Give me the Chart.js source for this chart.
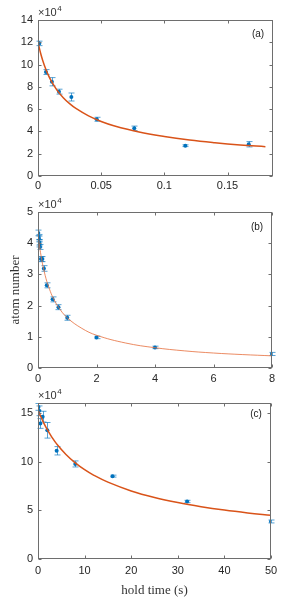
<!DOCTYPE html>
<html lang="en">
  <head>
    <meta charset="UTF-8" />
    <title>atom number vs hold time</title>
    <style>
      html, body { margin: 0; padding: 0; background: #fff; }
      .panel { position: absolute; left: 0; width: 299px; }
      #wrapA { top: 0; height: 196px; }
      #wrapB { top: 196px; height: 190px; }
      #wrapC { top: 386px; height: 212px; }
    </style>
  </head>
  <body>
    <div class="panel" id="wrapA"><canvas id="chartA"></canvas></div>
    <div class="panel" id="wrapB"><canvas id="chartB"></canvas></div>
    <div class="panel" id="wrapC"><canvas id="chartC"></canvas></div>
    <script src="https://cdn.jsdelivr.net/npm/chart.js"></script>
    <script>
      // panel (a): hold time in s, atom number in units of 1e4
      const timesA = [0.001, 0.0063, 0.011, 0.0166, 0.0264, 0.0465, 0.0762, 0.1166, 0.1668];
      const atomsA = [11.9, 9.33, 8.46, 7.57, 7.09, 5.09, 4.28, 2.72, 2.85];
      const errA = [0.2, 0.22, 0.37, 0.22, 0.36, 0.18, 0.2, 0.08, 0.24];
      const fitTimesA = [0, 0.0025, 0.005, 0.0075, 0.01, 0.015, 0.02, 0.025, 0.03, 0.04, 0.05, 0.06, 0.08, 0.1, 0.12, 0.14, 0.16, 0.18];
      const fitAtomsA = [12.0, 10.83, 9.93, 9.22, 8.63, 7.71, 7.03, 6.49, 6.06, 5.39, 4.89, 4.51, 3.94, 3.54, 3.23, 2.99, 2.79, 2.63];

      // panel (b)
      const timesB = [0.01, 0.02, 0.03, 0.04, 0.05, 0.07, 0.1, 0.15, 0.2, 0.3, 0.5, 0.7, 1, 2, 4, 8];
      const atomsB = [4.33, 4.2, 4.15, 4.03, 3.96, 3.88, 3.49, 3.49, 3.19, 2.65, 2.2, 1.95, 1.61, 0.98, 0.66, 0.45];
      const errB = [0.09, 0.08, 0.08, 0.09, 0.08, 0.08, 0.08, 0.08, 0.09, 0.08, 0.08, 0.08, 0.08, 0.04, 0.04, 0.05];
      const fitTimesB = [0, 0.05, 0.1, 0.15, 0.2, 0.3, 0.4, 0.5, 0.7, 1, 1.5, 2, 3, 4, 5, 6, 7, 8];
      const fitAtomsB = [4.3, 3.93, 3.62, 3.36, 3.14, 2.78, 2.51, 2.28, 1.95, 1.61, 1.27, 1.05, 0.8, 0.65, 0.55, 0.48, 0.43, 0.39];

      // panel (c)
      const timesC = [0.1, 0.25, 0.5, 1, 2, 4, 8, 16, 32, 50];
      const atomsC = [15.6, 15.2, 13.9, 14.6, 13.2, 11.1, 9.75, 8.5, 5.9, 3.85];
      const errC = [0.35, 0.5, 0.5, 0.55, 0.8, 0.43, 0.31, 0.1, 0.12, 0.15];
      const fitTimesC = [0, 0.5, 1, 2, 3, 4, 6, 8, 10, 12, 15, 20, 25, 30, 35, 40, 45, 50];
      const fitAtomsC = [15.3, 14.71, 14.18, 13.26, 12.48, 11.81, 10.72, 9.86, 9.16, 8.58, 7.88, 6.98, 6.31, 5.79, 5.37, 5.02, 4.73, 4.48];

      const blue = "rgb(0, 114, 189)";
      const orange = "rgb(217, 83, 25)";
      const tickFont = { family: "Liberation Sans", size: 11 };

      // MATLAB-like box with inward ticks, x10^4 label, panel tag, error bars
      const matlabBox = {
        id: "matlabBox",
        beforeDatasetsDraw(chart, args, opts) {
          const { ctx } = chart;
          const xs = chart.scales.x, ys = chart.scales.y;
          const pts = chart.data.datasets[1].data;
          ctx.save();
          ctx.strokeStyle = "rgba(0, 114, 189, 0.65)";
          ctx.lineWidth = 1;
          pts.forEach((p, i) => {
            const e = opts.errors[i];
            const px = Math.round(xs.getPixelForValue(p.x)) + 0.5;
            const y1 = ys.getPixelForValue(p.y - e);
            const y2 = ys.getPixelForValue(p.y + e);
            ctx.beginPath();
            ctx.moveTo(px, y1); ctx.lineTo(px, y2);
            ctx.moveTo(px - 3, y1); ctx.lineTo(px + 3, y1);
            ctx.moveTo(px - 3, y2); ctx.lineTo(px + 3, y2);
            ctx.stroke();
          });
          ctx.restore();
        },
        afterDraw(chart, args, opts) {
          const { ctx, chartArea: a } = chart;
          const xs = chart.scales.x, ys = chart.scales.y;
          const L = Math.round(a.left) + 0.5, R = Math.round(a.right) - 0.5;
          const T = Math.round(a.top) + 0.5, B = Math.round(a.bottom) - 0.5;
          ctx.save();
          ctx.strokeStyle = "#6e6e6e";
          ctx.lineWidth = 1;
          ctx.strokeRect(L, T, R - L, B - T);
          ctx.beginPath();
          xs.ticks.forEach((t) => {
            const px = Math.round(xs.getPixelForValue(t.value)) + 0.5;
            ctx.moveTo(px, B); ctx.lineTo(px, B - 3);
            ctx.moveTo(px, T); ctx.lineTo(px, T + 3);
          });
          ys.ticks.forEach((t) => {
            const py = Math.round(ys.getPixelForValue(t.value)) + 0.5;
            ctx.moveTo(L, py); ctx.lineTo(L + 3, py);
            ctx.moveTo(R, py); ctx.lineTo(R - 3, py);
          });
          ctx.stroke();
          // exponent label
          ctx.fillStyle = "#333";
          ctx.textBaseline = "alphabetic";
          ctx.font = "11px 'Liberation Sans'";
          ctx.fillText("\u00d710", a.left, a.top - 4);
          const w = ctx.measureText("\u00d710").width;
          ctx.font = "8px 'Liberation Sans'";
          ctx.fillText("4", a.left + w + 0.5, a.top - 9);
          // panel tag
          ctx.font = "10px 'Liberation Sans'";
          ctx.fillStyle = "#222";
          ctx.textAlign = "center";
          ctx.fillText(opts.tag, a.right - 15, a.top + opts.tagDy);
          ctx.restore();
        },
      };

      function makePanel(id, o) {
        const scatter = o.times.map((t, i) => ({ x: t, y: o.atoms[i] }));
        const fit = o.fitTimes.map((t, i) => ({ x: t, y: o.fitAtoms[i] }));
        return new Chart(document.getElementById(id), {
          type: "scatter",
          data: {
            datasets: [
              {
                type: "line",
                data: fit,
                borderColor: o.fitColor,
                borderWidth: o.fitWidth,
                pointRadius: 0,
                tension: 0.4,
                fill: false,
              },
              {
                data: scatter,
                backgroundColor: blue,
                borderColor: blue,
                pointRadius: 2,
                borderWidth: 0,
              },
            ],
          },
          options: {
            responsive: true,
            maintainAspectRatio: false,
            animation: false,
            layout: { padding: { top: o.padTop, right: o.padRight, left: 0, bottom: 0 } },
            plugins: {
              legend: { display: false },
              tooltip: { enabled: false },
              matlabBox: { errors: o.errors, tag: o.tag, tagDy: o.tagDy },
            },
            scales: {
              x: {
                type: "linear",
                min: 0,
                max: o.xMax,
                grid: { display: false, drawTicks: false },
                border: { display: false },
                ticks: {
                  stepSize: o.xStep,
                  includeBounds: false,
                  maxRotation: 0,
                  padding: o.xPad,
                  color: "#262626",
                  font: tickFont,
                  callback: (v) => String(+v.toFixed(2)),
                },
                title: o.xTitle
                  ? { display: true, text: o.xTitle, color: "#333", font: { family: "Liberation Serif", size: 13 }, padding: { top: 6, bottom: 0 } }
                  : { display: false },
                afterFit: (s) => { s.height = o.xHeight; },
              },
              y: {
                min: 0,
                max: o.yMax,
                grid: { display: false, drawTicks: false },
                border: { display: false },
                ticks: {
                  stepSize: o.yStep,
                  includeBounds: false,
                  padding: 5,
                  color: "#262626",
                  font: tickFont,
                },
                title: o.yTitle
                  ? { display: true, text: o.yTitle, color: "#333", font: { family: "Liberation Serif", size: 13 }, padding: { top: 8, bottom: 0 } }
                  : { display: false },
                afterFit: (s) => { s.width = 38; },
              },
            },
          },
          plugins: [matlabBox],
        });
      }

      makePanel("chartA", {
        times: timesA, atoms: atomsA, errors: errA, fitTimes: fitTimesA, fitAtoms: fitAtomsA,
        xMax: 0.186, xStep: 0.05, yMax: 14, yStep: 2, tag: "(a)", tagDy: 17,
        padTop: 20, padRight: 26, xHeight: 20, xPad: 3,
        fitColor: orange, fitWidth: 1.5,
      });
      makePanel("chartB", {
        times: timesB, atoms: atomsB, errors: errB, fitTimes: fitTimesB, fitAtoms: fitAtomsB,
        xMax: 8, xStep: 2, yMax: 5, yStep: 1, tag: "(b)", tagDy: 18,
        padTop: 16, padRight: 27, xHeight: 18, xPad: 4,
        fitColor: "rgba(230, 110, 60, 0.8)", fitWidth: 1, yTitle: "atom number",
      });
      makePanel("chartC", {
        times: timesC, atoms: atomsC, errors: errC, fitTimes: fitTimesC, fitAtoms: fitAtomsC,
        xMax: 50, xStep: 10, yMax: 16, yStep: 5, tag: "(c)", tagDy: 14,
        padTop: 17, padRight: 28, xHeight: 39, xPad: 5,
        fitColor: orange, fitWidth: 1.5, xTitle: "hold time (s)",
      });
    </script>
  </body>
</html>
